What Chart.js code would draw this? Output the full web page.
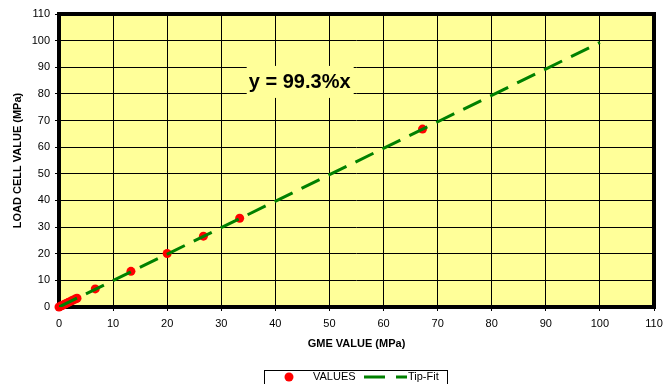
<!DOCTYPE html>
<html lang="en">
<head>
  <meta charset="UTF-8">
  <title>Load Cell vs GME</title>
  <script src="https://cdn.jsdelivr.net/npm/chart.js"></script>
  <style>
    body {
      margin: 0;
      padding: 0;
      background: #fff;
    }
    #wrap {
      width: 663px;
      height: 384px;
    }
  </style>
</head>
<body>
  <div id="wrap"><canvas id="fitChart"></canvas></div>

  <script>
    // Measured points (MPa)
    const gmeValues  = [0, 0.33, 0.67, 1.0, 1.33, 1.67, 2.0, 2.33, 2.67, 3.0, 3.33, 6.7, 13.3, 20.0, 26.7, 33.4, 67.2];
    const loadValues = [0, 0.33, 0.66, 1.0, 1.32, 1.66, 2.0, 2.31, 2.65, 2.98, 3.3, 6.8, 13.4, 20.1, 26.6, 33.3, 66.8];

    // Tip fit: y = 99.3% x, drawn from 0 to 100
    const fitX = [0, 100];
    const fitY = [0, 99.3];
    const fitLabel = "y = 99.3%x";

    const axisMax = 110;
    const axisStep = 10;

    const points = gmeValues.map((x, i) => ({ x: x, y: loadValues[i] }));
    const fitLine = fitX.map((x, i) => ({ x: x, y: fitY[i] }));

    const plotBg = "#FFFF99";
    const fitGreen = "#008000";
    const pointRed = "#FF0000";

    // yellow plot area + heavy frame, equation box, bottom legend
    const framePlugin = {
      id: "frame",
      beforeDraw(chart) {
        const { ctx, chartArea: a } = chart;
        ctx.save();
        ctx.fillStyle = plotBg;
        ctx.fillRect(a.left, a.top, a.right - a.left, a.bottom - a.top);
        ctx.restore();
      },
      beforeDatasetsDraw(chart) {
        const { ctx, chartArea: a, scales } = chart;
        ctx.save();
        ctx.strokeStyle = "#000";
        ctx.lineWidth = 4;
        ctx.strokeRect(a.left, a.top, a.right - a.left, a.bottom - a.top);

        // equation label
        const cx = scales.x.getPixelForValue(44.5);
        const cy = scales.y.getPixelForValue(84.5);
        ctx.fillStyle = plotBg;
        ctx.fillRect(cx - 53, cy - 16, 107, 32);
        ctx.fillStyle = "#000";
        ctx.font = "bold 20px 'Liberation Sans', Arial, sans-serif";
        ctx.textAlign = "center";
        ctx.textBaseline = "middle";
        ctx.fillText(fitLabel, cx, cy + 1);
        ctx.restore();
      },
      afterDraw(chart) {
        const ctx = chart.ctx;
        ctx.save();
        // legend box
        ctx.fillStyle = "#fff";
        ctx.fillRect(264, 370, 184, 20);
        ctx.strokeStyle = "#000";
        ctx.lineWidth = 1;
        ctx.strokeRect(264.5, 370.5, 183, 20);

        ctx.fillStyle = pointRed;
        ctx.beginPath();
        ctx.arc(289, 377, 4.5, 0, Math.PI * 2);
        ctx.fill();

        ctx.font = "11px 'Liberation Sans', Arial, sans-serif";
        ctx.fillStyle = "#000";
        ctx.textBaseline = "middle";
        ctx.textAlign = "left";
        ctx.fillText(chart.data.datasets[1].label, 313, 377);

        ctx.strokeStyle = fitGreen;
        ctx.lineWidth = 3;
        ctx.setLineDash([21, 11]);
        ctx.beginPath();
        ctx.moveTo(364, 377);
        ctx.lineTo(407, 377);
        ctx.stroke();
        ctx.setLineDash([]);

        ctx.fillText(chart.data.datasets[0].label, 408, 377);
        ctx.restore();
      }
    };

    const tickFont = { family: "'Liberation Sans', Arial, sans-serif", size: 11 };
    const titleFont = { family: "'Liberation Sans', Arial, sans-serif", size: 11, weight: "bold" };

    new Chart(document.getElementById("fitChart"), {
      type: "scatter",
      data: {
        datasets: [
          {
            label: "Tip-Fit",
            data: fitLine,
            showLine: true,
            borderColor: fitGreen,
            borderWidth: 3,
            borderDash: [20, 10],
            pointRadius: 0,
            fill: false,
            order: 0
          },
          {
            label: "VALUES",
            data: points,
            backgroundColor: pointRed,
            borderColor: pointRed,
            pointRadius: 4.5,
            pointBorderWidth: 0,
            clip: false,
            order: 1
          }
        ]
      },
      options: {
        responsive: true,
        maintainAspectRatio: false,
        animation: false,
        layout: { padding: { top: 14, right: 9, bottom: 0, left: 0 } },
        plugins: {
          legend: { display: false },
          tooltip: { enabled: false }
        },
        scales: {
          x: {
            type: "linear",
            min: 0,
            max: axisMax,
            border: { display: false },
            grid: { color: "#000", lineWidth: 1, tickLength: 4 },
            ticks: { stepSize: axisStep, color: "#000", font: tickFont, padding: 6, maxRotation: 0 },
            title: { display: true, text: "GME VALUE (MPa)", color: "#000", font: titleFont, padding: { top: 0, bottom: 33 } },
            afterFit(scale) {
              scale.height = 77;
              scale.paddingLeft = 0;
              scale.paddingRight = 0;
            }
          },
          y: {
            type: "linear",
            min: 0,
            max: axisMax,
            border: { display: false },
            grid: { color: "#000", lineWidth: 1, tickLength: 4 },
            ticks: { stepSize: axisStep, color: "#000", font: tickFont, padding: 5 },
            title: { display: true, text: "LOAD CELL VALUE (MPa)", color: "#000", font: titleFont, padding: { top: 11, bottom: 0 } },
            afterFit(scale) {
              scale.width = 59;
              scale.paddingTop = 0;
              scale.paddingBottom = 0;
            }
          }
        }
      },
      plugins: [framePlugin]
    });
  </script>
</body>
</html>
